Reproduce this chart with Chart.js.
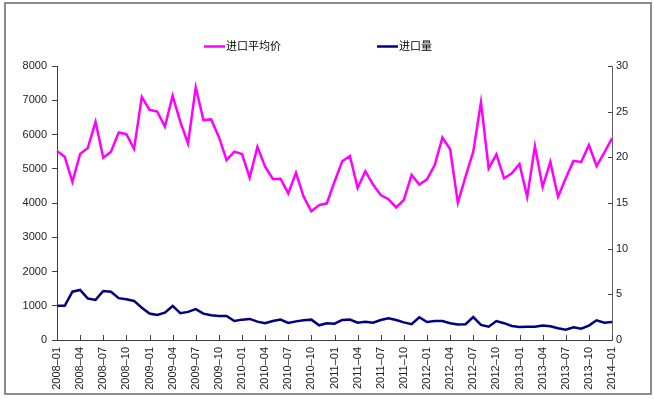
<!DOCTYPE html>
<html>
<head>
<meta charset="utf-8">
<script src="https://cdn.jsdelivr.net/npm/chart.js@4/dist/chart.umd.min.js"></script>
<style>
html,body{margin:0;padding:0;background:#fff;}
#wrap{position:relative;width:654px;height:399px;}
</style>
</head>
<body>
<div id="wrap"><canvas id="c" width="654" height="399"></canvas></div>
<script>
// Categories: monthly 2008-01 .. 2014-01
const startYear = 2008, endYear = 2014;
const months = [];
for (let y = startYear; y <= endYear; y++) {
  for (let m = 1; m <= 12; m++) {
    if (y === endYear && m > 1) break;
    months.push(y + '–' + String(m).padStart(2, '0'));
  }
}

const seriesNames = ['进口平均价', '进口量'];

// 进口平均价 (left axis)
const avgPrice = [
  5520, 5350, 4620, 5430, 5610, 6370, 5320, 5500, 6060, 6010, 5580, 7100,
  6720, 6670, 6230, 7130, 6370, 5740, 7380, 6420, 6440, 5930, 5250, 5500,
  5430, 4740, 5640, 5060, 4700, 4710, 4280, 4880, 4180, 3760, 3940, 3990,
  4620, 5220, 5370, 4440, 4930, 4540, 4230, 4110, 3870, 4090, 4820, 4540,
  4690, 5110, 5910, 5570, 4010, 4770, 5500, 6940, 5010, 5420, 4720, 4870,
  5140, 4180, 5660, 4470, 5200, 4180, 4720, 5230, 5200, 5690, 5080, 5470,
  5890
];

// 进口量 (right axis)
const importVol = [
  3.75, 3.75, 5.29, 5.48, 4.54, 4.39, 5.36, 5.29, 4.58, 4.46, 4.28, 3.54,
  2.89, 2.74, 3.00, 3.73, 2.93, 3.08, 3.38, 2.89, 2.70, 2.63, 2.63, 2.08,
  2.23, 2.31, 2.01, 1.84, 2.08, 2.23, 1.86, 2.04, 2.16, 2.23, 1.61, 1.84,
  1.78, 2.19, 2.23, 1.89, 2.01, 1.89, 2.19, 2.38, 2.19, 1.93, 1.73, 2.49,
  1.97, 2.08, 2.08, 1.84, 1.69, 1.73, 2.51, 1.65, 1.46, 2.08, 1.84, 1.54,
  1.43, 1.46, 1.46, 1.58, 1.50, 1.28, 1.13, 1.39, 1.24, 1.58, 2.16, 1.89,
  1.97
];

const leftTicks = [0, 1000, 2000, 3000, 4000, 5000, 6000, 7000, 8000];
const rightTicks = [0, 5, 10, 15, 20, 25, 30];

const colors = ['#FF00FF', '#000080'];
const tickFont = { family: 'Arial, "Liberation Sans", sans-serif', size: 11 };

const framePlugin = {
  id: 'frame',
  beforeDraw(chart) {
    const ctx = chart.ctx;
    ctx.save();
    ctx.fillStyle = '#fff';
    ctx.fillRect(0, 0, chart.width, chart.height);
    ctx.restore();
  },
  afterDraw(chart) {
    const ctx = chart.ctx;
    const x = chart.scales.x, yr = chart.scales.y1, ca = chart.chartArea;
    ctx.save();
    // inside tick marks on x axis
    ctx.strokeStyle = '#404040';
    ctx.lineWidth = 1;
    ctx.beginPath();
    for (let i = 0; i < months.length; i += 3) {
      const px = Math.round(x.getPixelForValue(i)) + 0.5;
      ctx.moveTo(px, ca.bottom);
      ctx.lineTo(px, ca.bottom - 5);
    }
    // inside tick marks on right axis
    rightTicks.forEach(v => {
      const py = Math.round(yr.getPixelForValue(v)) + 0.5;
      ctx.moveTo(ca.right, py);
      ctx.lineTo(ca.right - 4, py);
    });
    ctx.stroke();
    // legend
    const items = [
      { x0: 204, label: seriesNames[0], color: colors[0] },
      { x0: 377, label: seriesNames[1], color: colors[1] }
    ];
    ctx.font = '11px "Noto Sans CJK SC", sans-serif';
    ctx.textBaseline = 'middle';
    items.forEach(it => {
      ctx.strokeStyle = it.color;
      ctx.lineWidth = 2.5;
      ctx.beginPath();
      ctx.moveTo(it.x0, 46.5);
      ctx.lineTo(it.x0 + 21, 46.5);
      ctx.stroke();
      ctx.fillStyle = '#000';
      ctx.fillText(it.label, it.x0 + 22, 46);
    });
    // outer border
    ctx.strokeStyle = '#8c8c8c';
    ctx.lineWidth = 2;
    ctx.strokeRect(5, 3, 646, 391);
    ctx.restore();
  }
};

new Chart(document.getElementById('c'), {
  type: 'line',
  data: {
    labels: months,
    datasets: [
      {
        label: seriesNames[0], data: avgPrice, yAxisID: 'y',
        borderColor: colors[0], backgroundColor: colors[0],
        borderWidth: 2.5, pointRadius: 0, tension: 0
      },
      {
        label: seriesNames[1], data: importVol, yAxisID: 'y1',
        borderColor: colors[1], backgroundColor: colors[1],
        borderWidth: 2.5, pointRadius: 0, tension: 0
      }
    ]
  },
  options: {
    responsive: false,
    animation: false,
    events: [],
    layout: { padding: { top: 66, left: 0, right: 0, bottom: 0 } },
    plugins: { legend: { display: false }, tooltip: { enabled: false } },
    scales: {
      x: {
        type: 'category',
        offset: false,
        grid: { display: false, drawTicks: false },
        border: { display: true, color: '#404040', width: 1 },
        ticks: {
          autoSkip: false, maxRotation: 90, minRotation: 90, padding: 7,
          color: '#222', font: tickFont,
          callback: function (v, i) { return i % 3 === 0 ? months[i] : ''; }
        },
        afterFit(s) { s.height = 59; }
      },
      y: {
        position: 'left', min: 0, max: 8000,
        afterBuildTicks(s) { s.ticks = leftTicks.map(v => ({ value: v })); },
        grid: { drawOnChartArea: false, drawTicks: true, tickLength: 5, color: '#404040' },
        border: { display: true, color: '#404040', width: 1 },
        ticks: { color: '#222', font: tickFont, padding: 5, callback: v => String(v) },
        afterFit(s) { s.width = 57; }
      },
      y1: {
        position: 'right', min: 0, max: 30,
        afterBuildTicks(s) { s.ticks = rightTicks.map(v => ({ value: v })); },
        grid: { display: false, drawTicks: false },
        border: { display: true, color: '#606060', width: 1 },
        ticks: { color: '#222', font: tickFont, padding: 4, callback: v => String(v) },
        afterFit(s) { s.width = 42; }
      }
    }
  },
  plugins: [framePlugin]
});
</script>
</body>
</html>
